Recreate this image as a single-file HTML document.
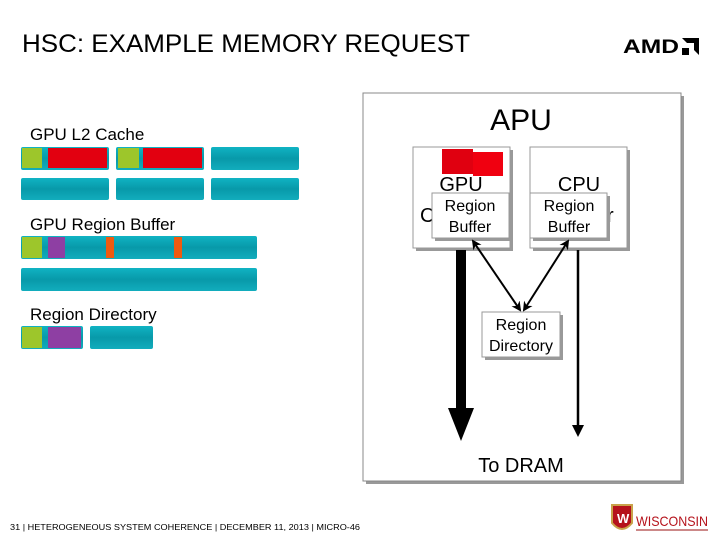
<!DOCTYPE html>
<html><head><meta charset="utf-8"><style>
body{margin:0;width:720px;height:540px;background:#fff;overflow:hidden;font-family:"Liberation Sans",sans-serif}
</style></head><body>
<svg width="720" height="540" viewBox="0 0 720 540" xmlns="http://www.w3.org/2000/svg" font-family="Liberation Sans, DejaVu Sans, sans-serif">
<defs>
<linearGradient id="t" x1="0" y1="0" x2="0" y2="1"><stop offset="0" stop-color="#10b3c3"/><stop offset="0.5" stop-color="#0899a9"/><stop offset="1" stop-color="#12adbd"/></linearGradient>
<marker id="ah" markerWidth="10" markerHeight="10" refX="8" refY="5" orient="auto-start-reverse" markerUnits="userSpaceOnUse"><path d="M0,0 L10,5 L0,10 L3,5z" fill="#000"/></marker>
</defs>
<text x="22" y="52" font-size="25" fill="#000" textLength="448" lengthAdjust="spacingAndGlyphs">HSC: EXAMPLE MEMORY REQUEST</text>
<text x="623" y="53" font-size="19" font-weight="bold" fill="#000" textLength="56" lengthAdjust="spacingAndGlyphs">AMD</text>
<path d="M682,38 h17 v17 l-5,-5 v-7 h-7z M682,48 h7 v7 h-7z" fill="#000"/>
<g font-size="17" fill="#000">
<text x="30" y="140">GPU L2 Cache</text>
<text x="30" y="230">GPU Region Buffer</text>
<text x="30" y="320">Region Directory</text>
</g>
<g fill="url(#t)">
<rect x="21" y="147" width="88" height="23" rx="2"/><rect x="116" y="147" width="88" height="23" rx="2"/><rect x="211" y="147" width="88" height="23" rx="2"/>
<rect x="21" y="178" width="88" height="22" rx="2"/><rect x="116" y="178" width="88" height="22" rx="2"/><rect x="211" y="178" width="88" height="22" rx="2"/>
<rect x="21" y="236" width="236" height="23" rx="2"/><rect x="21" y="268" width="236" height="23" rx="2"/>
<rect x="21" y="326" width="62" height="23" rx="2"/><rect x="90" y="326" width="63" height="23" rx="2"/>
</g>
<rect x="22" y="148" width="20" height="20" fill="#9dc62b"/><rect x="48" y="148" width="59" height="20" fill="#e20010"/>
<rect x="118" y="148" width="21" height="20" fill="#9dc62b"/><rect x="143" y="148" width="59" height="20" fill="#e20010"/>
<rect x="22" y="237" width="20" height="21" fill="#9dc62b"/><rect x="48" y="237" width="17" height="21" fill="#8e3fa3"/>
<rect x="106" y="237" width="8" height="21" fill="#ef5a10"/><rect x="174" y="237" width="8" height="21" fill="#ef5a10"/>
<rect x="22" y="327" width="20" height="21" fill="#9dc62b"/><rect x="48" y="327" width="33" height="21" fill="#8e3fa3"/>
<rect x="366" y="96" width="318" height="388" fill="#999"/>
<rect x="363" y="93" width="318" height="388" fill="#fff" stroke="#888"/>
<text x="521" y="130" font-size="30" text-anchor="middle">APU</text>
<rect x="416" y="150" width="97" height="101" fill="#999"/><rect x="413" y="147" width="97" height="101" fill="#fff" stroke="#999"/>
<rect x="533" y="150" width="97" height="101" fill="#999"/><rect x="530" y="147" width="97" height="101" fill="#fff" stroke="#999"/>
<rect x="442" y="149" width="31" height="25" fill="#e00010"/><rect x="473" y="152" width="30" height="24" fill="#f00010"/>
<text x="461" y="191" font-size="20" text-anchor="middle">GPU</text>
<text x="579" y="191" font-size="20" text-anchor="middle">CPU</text>
<text x="420" y="222" font-size="20">C</text><text x="607" y="222" font-size="20">r</text>
<rect x="435" y="196" width="77" height="45" fill="#999"/><rect x="432" y="193" width="77" height="45" fill="#fff" stroke="#999"/>
<rect x="533" y="196" width="77" height="45" fill="#999"/><rect x="530" y="193" width="77" height="45" fill="#fff" stroke="#999"/>
<g font-size="16" text-anchor="middle">
<text x="470" y="211">Region</text><text x="470" y="232">Buffer</text>
<text x="569" y="211">Region</text><text x="569" y="232">Buffer</text>
</g>
<rect x="485" y="315" width="78" height="45" fill="#999"/><rect x="482" y="312" width="78" height="45" fill="#fff" stroke="#999"/>
<g font-size="16" text-anchor="middle"><text x="521" y="330">Region</text><text x="521" y="351">Directory</text></g>
<rect x="456" y="250" width="10" height="160" fill="#000"/>
<path d="M448,408 L474,408 L461,441z" fill="#000"/>
<line x1="578" y1="250" x2="578" y2="430" stroke="#000" stroke-width="2.5"/>
<path d="M572,425 L584,425 L578,437z" fill="#000"/>
<line x1="473" y1="241" x2="520" y2="310" stroke="#000" stroke-width="2" marker-start="url(#ah)" marker-end="url(#ah)"/>
<line x1="568" y1="241" x2="524" y2="310" stroke="#000" stroke-width="2" marker-start="url(#ah)" marker-end="url(#ah)"/>
<text x="521" y="472" font-size="20" text-anchor="middle">To DRAM</text>
<text x="10" y="530" font-size="8" fill="#000" textLength="350" lengthAdjust="spacingAndGlyphs">31  |  HETEROGENEOUS SYSTEM COHERENCE  |  DECEMBER 11, 2013  |  MICRO-46</text>
<path d="M612,505 h20 v18 q-10,12 -20,0z" fill="#b5121b" stroke="#c9a24a" stroke-width="2"/>
<text x="617" y="523" font-size="13" font-weight="bold" fill="#fff">W</text>
<text x="636" y="526" font-size="14" fill="#b5121b" textLength="72" lengthAdjust="spacingAndGlyphs">WISCONSIN</text>
<rect x="636" y="529" width="72" height="2" fill="#c88"/>
</svg>
</body></html>
